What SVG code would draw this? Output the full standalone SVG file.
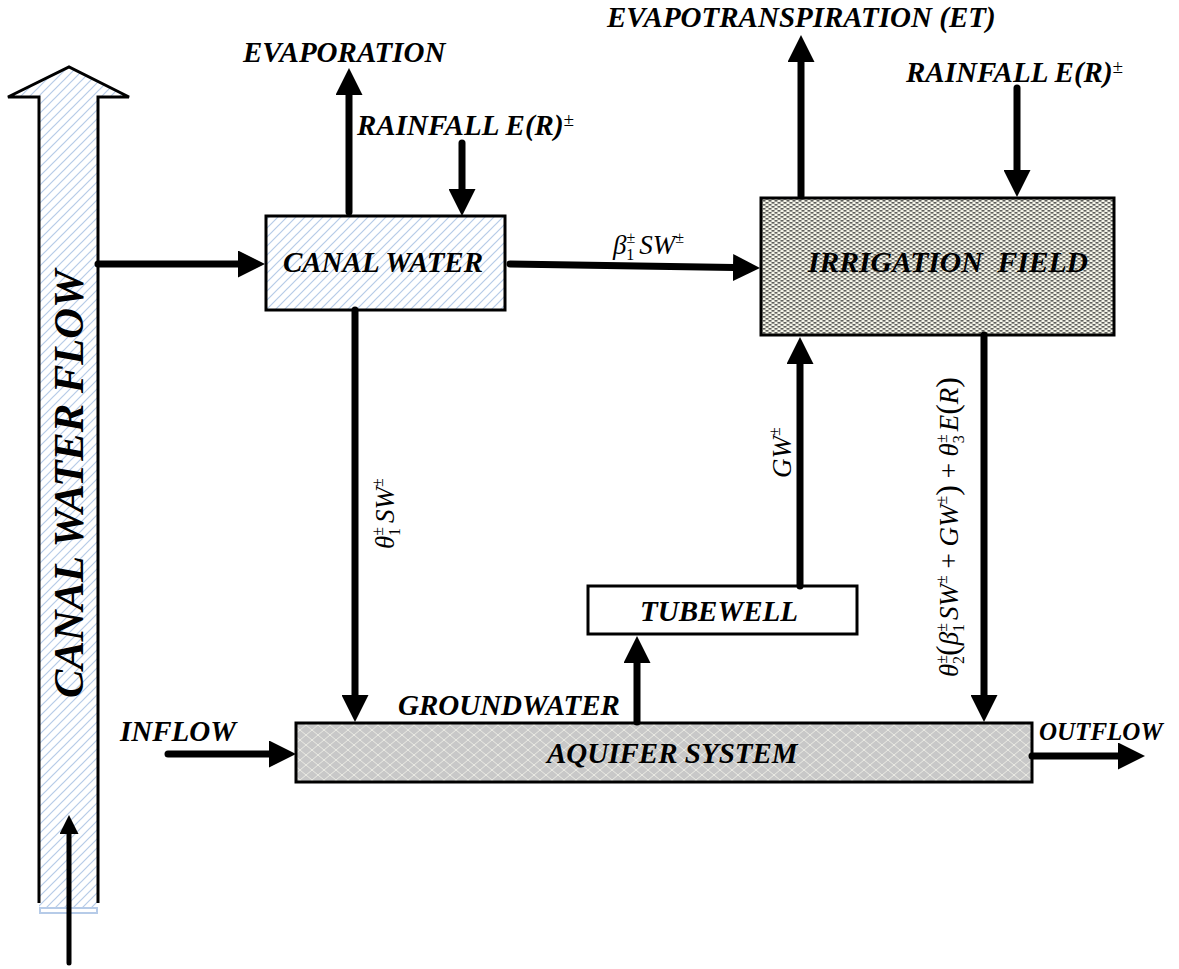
<svg xmlns="http://www.w3.org/2000/svg" width="1179" height="969" viewBox="0 0 1179 969">
<defs>
<style>
.lbl{font-family:"Liberation Serif","Times New Roman",serif;font-weight:bold;font-style:italic;font-size:29px;fill:#000}
.m{font-family:"Liberation Serif","Times New Roman",serif;font-style:italic;font-size:27px;fill:#000}
.up{font-style:normal}
.box{stroke:#000;stroke-width:3}
.con{fill:none;stroke:#000;stroke-width:7;stroke-linecap:round;marker-end:url(#ah)}
</style>
<pattern id="hatch" patternUnits="userSpaceOnUse" width="9" height="9">
<rect width="9" height="9" fill="#fff"/>
<path d="M0,9 L9,0 M-1,1 L1,-1 M8,10 L10,8" stroke="#b6cbe8" stroke-width="1.2"/>
</pattern>
<pattern id="dots" patternUnits="userSpaceOnUse" width="6" height="4">
<rect width="6" height="4" fill="#f5f5e8"/>
<rect x="0.5" y="0.2" width="3" height="1.3" fill="#3a3a3a"/>
<rect x="3.5" y="2.2" width="2.5" height="1.3" fill="#3a3a3a"/>
<rect x="0" y="2.2" width="0.5" height="1.3" fill="#3a3a3a"/>
</pattern>
<pattern id="lattice" patternUnits="userSpaceOnUse" width="12" height="10">
<rect width="12" height="10" fill="#c8c8c8"/>
<path d="M0,0 L12,10 M12,0 L0,10" stroke="#ebebe4" stroke-width="1"/>
</pattern>
<marker id="ah" markerUnits="userSpaceOnUse" viewBox="0 0 27 27" markerWidth="27" markerHeight="27" refX="1" refY="13.5" orient="auto">
<path d="M0,0 L27,13.5 L0,27 z" fill="#000"/>
</marker>
<marker id="ahs" markerUnits="userSpaceOnUse" viewBox="0 0 19 19" markerWidth="19" markerHeight="19" refX="1" refY="9.5" orient="auto">
<path d="M0,0 L19,9.5 L0,19 z" fill="#000"/>
</marker>
</defs>
<rect width="1179" height="969" fill="#fff"/>

<g id="canal-water-flow">
<polygon points="39,908 39,97 8,97 69,67 129,97 98,97 98,908" fill="url(#hatch)"/>
<polyline points="39,903 39,97 8,97 69,67 129,97 98,97 98,903" fill="none" stroke="#000" stroke-width="3" stroke-linejoin="miter"/>
<rect x="40" y="908" width="57" height="5" fill="#fff" stroke="#b6cbe8" stroke-width="2"/>
<text class="lbl" transform="translate(83,698) rotate(-90)" textLength="428" lengthAdjust="spacingAndGlyphs" style="font-size:42px">CANAL WATER FLOW</text>
</g>

<g id="canal-water">
<rect class="box" x="266" y="216" width="239" height="94" fill="url(#hatch)"/>
<text class="lbl" x="383" y="272" text-anchor="middle">CANAL WATER</text>
</g>

<g id="irrigation-field">
<rect class="box" x="761" y="198" width="353" height="137" fill="url(#dots)"/>
<text class="lbl" x="808" y="272" textLength="280" lengthAdjust="spacingAndGlyphs" xml:space="preserve">IRRIGATION  FIELD</text>
</g>

<g id="tubewell">
<rect class="box" x="588" y="586" width="269" height="48" fill="#fff"/>
<text class="lbl" x="719" y="621" text-anchor="middle">TUBEWELL</text>
</g>

<g id="aquifer-system">
<rect class="box" x="296" y="723" width="736" height="59" fill="url(#lattice)"/>
<text class="lbl" x="547" y="763">AQUIFER SYSTEM</text>
</g>

<g id="labels">
<text class="lbl" x="243" y="62">EVAPORATION</text>
<text class="lbl" x="357" y="135">RAINFALL <tspan>E(R)</tspan><tspan font-size="19" dy="-9" style="font-weight:normal">±</tspan></text>
<text class="lbl" x="607" y="27">EVAPOTRANSPIRATION (ET)</text>
<text class="lbl" x="906" y="82">RAINFALL <tspan>E(R)</tspan><tspan font-size="19" dy="-9" style="font-weight:normal">±</tspan></text>
<text class="lbl" x="398" y="715">GROUNDWATER</text>
<text class="lbl" x="120" y="741">INFLOW</text>
<text class="lbl" x="1039" y="740" style="font-size:25px">OUTFLOW</text>
</g>

<g id="connectors">
<line class="con" x1="98" y1="264" x2="239" y2="264"/>
<line class="con" x1="349" y1="212" x2="349" y2="94"/>
<line class="con" x1="462" y1="143" x2="462" y2="190"/>
<line class="con" x1="510" y1="264" x2="734" y2="267.6"/>
<line class="con" x1="801" y1="196" x2="801" y2="61"/>
<line class="con" x1="1017" y1="88" x2="1017" y2="171"/>
<line class="con" x1="984" y1="335" x2="984" y2="696"/>
<line class="con" x1="355" y1="310" x2="355" y2="696"/>
<line class="con" x1="800" y1="586" x2="800" y2="363"/>
<line class="con" x1="637" y1="722" x2="637" y2="662"/>
<line class="con" x1="168" y1="754" x2="270" y2="754"/>
<line class="con" x1="1032" y1="756" x2="1119" y2="756"/>
<line x1="69" y1="963" x2="69" y2="833" stroke="#000" stroke-width="5" stroke-linecap="round" marker-end="url(#ahs)"/>
</g>

<g id="connector-labels">
<text class="m" x="613" y="254">β<tspan font-size="16" dy="-11" class="up">±</tspan><tspan font-size="16" dx="-9" dy="17" class="up">1</tspan><tspan dy="-6" dx="5">SW</tspan><tspan font-size="16" dy="-11" class="up">±</tspan></text>
<text class="m" transform="translate(394,549) rotate(-90)">θ<tspan font-size="16" dy="-11" class="up">±</tspan><tspan font-size="16" dx="-9" dy="17" class="up">1</tspan><tspan dy="-6" dx="5">SW</tspan><tspan font-size="16" dy="-11" class="up">±</tspan></text>
<text class="m" transform="translate(791,478) rotate(-90)">GW<tspan font-size="16" dy="-11" class="up">±</tspan></text>
<text class="m" transform="translate(958,677) rotate(-90)">θ<tspan font-size="16" dy="-11" class="up">±</tspan><tspan font-size="16" dx="-9" dy="17" class="up">2</tspan><tspan dy="-6" class="up" font-size="32">(</tspan><tspan>β</tspan><tspan font-size="16" dy="-11" class="up">±</tspan><tspan font-size="16" dx="-9" dy="17" class="up">1</tspan><tspan dy="-6" dx="4">SW</tspan><tspan font-size="16" dy="-11" class="up">±</tspan><tspan dy="11" class="up" xml:space="preserve"> + </tspan><tspan>GW</tspan><tspan font-size="16" dy="-11" class="up">±</tspan><tspan dy="11" class="up" font-size="32">)</tspan><tspan class="up" xml:space="preserve"> + </tspan><tspan>θ</tspan><tspan font-size="16" dy="-11" class="up">±</tspan><tspan font-size="16" dx="-9" dy="17" class="up">3</tspan><tspan dy="-6" dx="4">E</tspan><tspan class="up" font-size="32">(</tspan><tspan>R</tspan><tspan class="up" font-size="32">)</tspan></text>
</g>
</svg>
